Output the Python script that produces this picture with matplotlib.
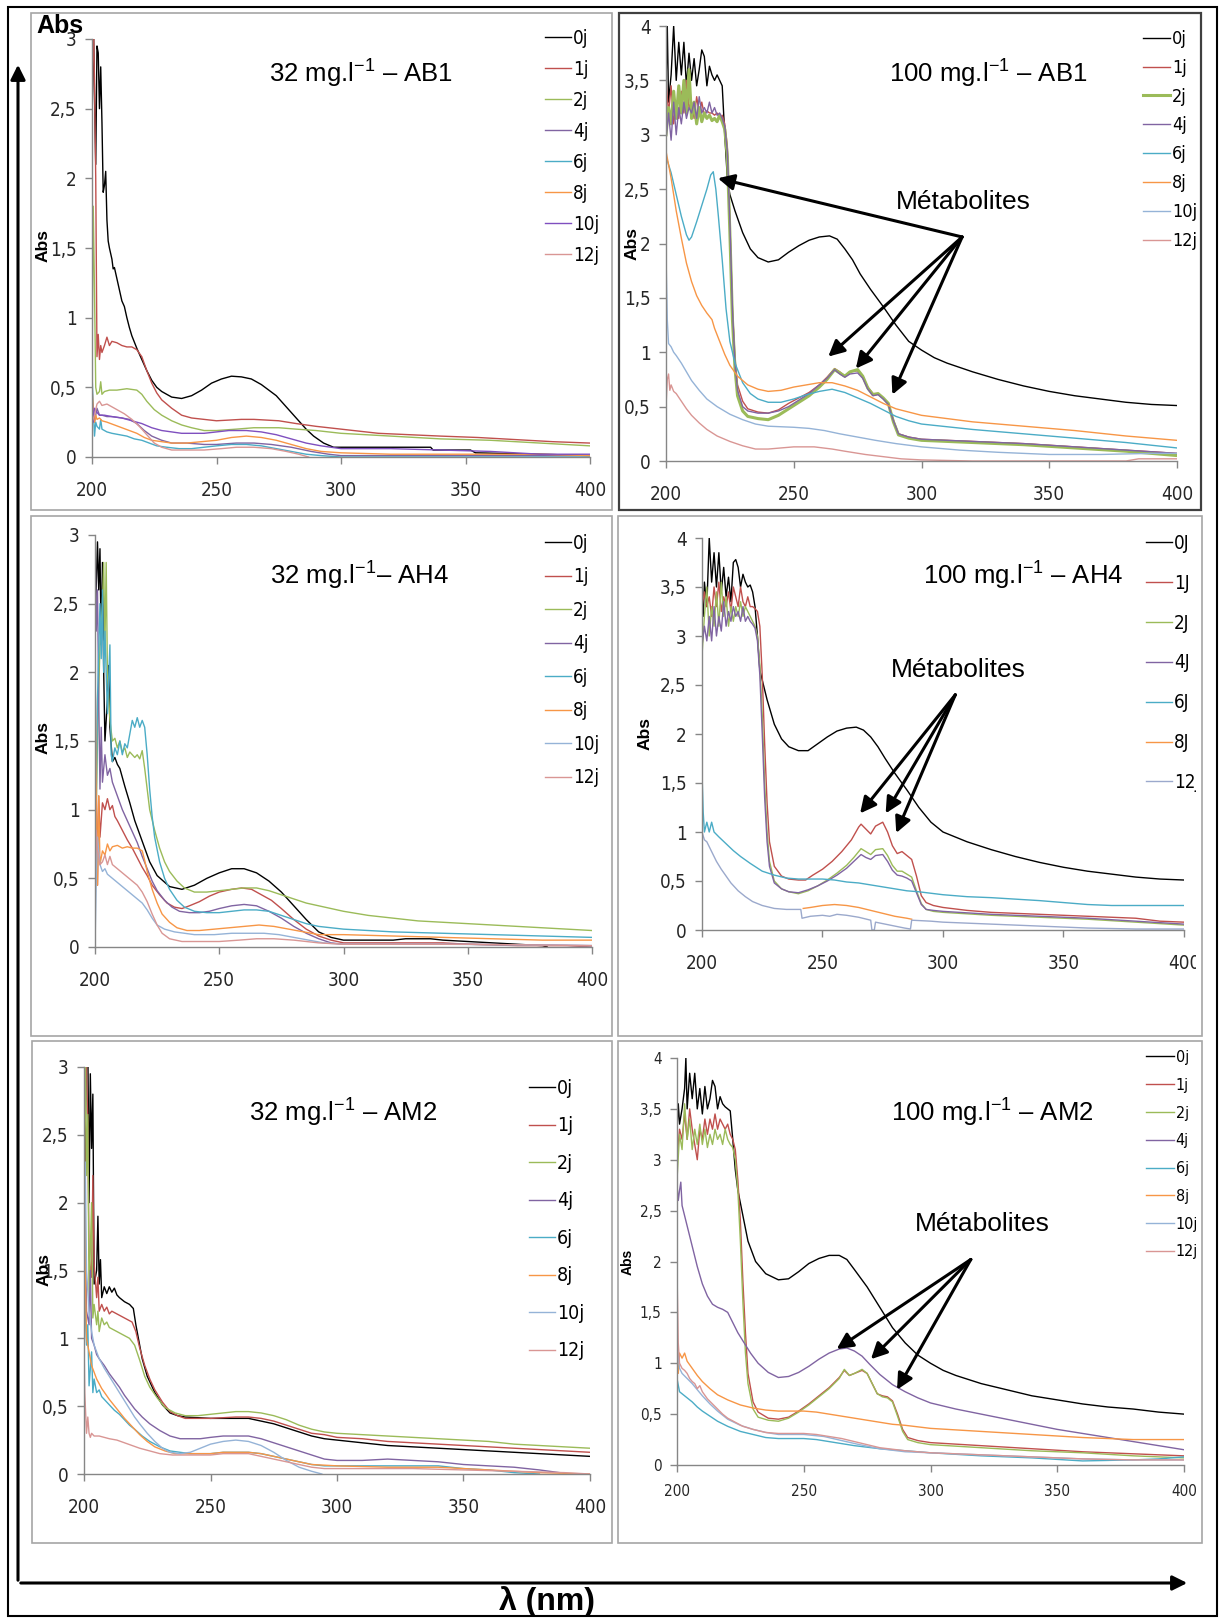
import numpy as np
import matplotlib.pyplot as plt
from matplotlib.patches import Rectangle, FancyArrowPatch
from matplotlib.transforms import Bbox, TransformedBbox

plt.rcParams['mathtext.fontset'] = 'custom'
plt.rcParams['mathtext.rm'] = 'Liberation Sans'

W, H = 1224, 1618

# ---------------- data : (wavelength nm, absorbance) ----------------
days8 = ['0j', '1j', '2j', '4j', '6j', '8j', '10j', '12j']
days_ah4 = ['0J', '1J', '2J', '4J', '6J', '8J', '12J']

y_ticks_3 = [0, 0.5, 1, 1.5, 2, 2.5, 3]
y_labels_3 = ['0', '0,5', '1', '1,5', '2', '2,5', '3']
y_ticks_4 = [0, 0.5, 1, 1.5, 2, 2.5, 3, 3.5, 4]
y_labels_4 = ['0', '0,5', '1', '1,5', '2', '2,5', '3', '3,5', '4']
x_ticks = [200, 250, 300, 350, 400]

# 32 mg/l AB1
p1_0j = [(200,2.3),(200.5,3.2),(201,2.6),(201.5,2.1),(202,2.95),(202.5,2.9),(203,2.5),(203.5,2.8),(204,2.4),(204.5,1.9),(205,1.95),(205.5,2.05),(206,1.7),(206.5,1.55),(207,1.5),(208,1.42),(208.5,1.35),(209,1.36),(210,1.28),(211,1.2),(212,1.12),(213,1.08),(214,1.0),(215,0.93),(216,0.87),(218,0.78),(220,0.7),(222,0.62),(224,0.55),(226,0.5),(228,0.47),(232,0.43),(236,0.42),(240,0.44),(244,0.48),(248,0.53),(252,0.56),(256,0.58),(260,0.575),(264,0.56),(268,0.52),(271,0.48),(274,0.44),(277,0.38),(280,0.32),(283,0.26),(286,0.2),(289,0.15),(293,0.1),(297,0.07),(300,0.07),(320,0.07),(336,0.07),(337,0.05),(352,0.05),(354,0.03),(380,0.02),(400,0.01)]
p1_1j = [(200,2.4),(200.5,3.2),(201,2.7),(201.5,2.0),(202,0.72),(202.5,0.88),(203,0.7),(203.5,0.8),(204,0.75),(205,0.8),(206,0.86),(207,0.8),(208,0.83),(210,0.82),(212,0.8),(214,0.79),(216,0.79),(218,0.77),(220,0.72),(222,0.62),(224,0.53),(226,0.46),(228,0.41),(232,0.35),(236,0.3),(240,0.28),(245,0.27),(250,0.26),(260,0.27),(265,0.27),(270,0.265),(275,0.26),(282,0.24),(290,0.22),(300,0.2),(315,0.17),(340,0.15),(355,0.14),(365,0.13),(385,0.11),(400,0.1)]
p1_2j = [(200,0.6),(200.5,1.8),(201,1.2),(201.5,0.5),(202,0.45),(203,0.47),(203.5,0.54),(204,0.45),(205,0.47),(207,0.48),(210,0.48),(214,0.49),(218,0.48),(220,0.45),(222,0.4),(225,0.34),(228,0.3),(232,0.26),(236,0.23),(240,0.21),(245,0.19),(250,0.19),(258,0.2),(265,0.21),(275,0.21),(282,0.2),(290,0.19),(300,0.17),(320,0.15),(340,0.13),(360,0.12),(380,0.1),(400,0.08)]
p1_4j = [(200,0.4),(200.5,0.3),(201,0.25),(202,0.35),(203,0.3),(204,0.3),(206,0.29),(208,0.29),(212,0.28),(215,0.27),(218,0.24),(221,0.19),(224,0.15),(228,0.12),(232,0.1),(238,0.1),(245,0.09),(250,0.09),(258,0.1),(265,0.1),(272,0.09),(280,0.07),(288,0.04),(295,0.02),(300,0.01),(340,0.01),(400,0.01)]
p1_6j = [(200,0.6),(200.5,0.35),(201,0.15),(201.5,0.25),(202,0.22),(203,0.2),(203.5,0.27),(204,0.2),(206,0.18),(208,0.17),(211,0.16),(214,0.15),(217,0.13),(220,0.12),(223,0.1),(226,0.08),(230,0.07),(235,0.06),(240,0.06),(245,0.07),(250,0.08),(256,0.09),(262,0.09),(268,0.08),(274,0.06),(280,0.04),(286,0.02),(292,0.01),(300,0.0),(400,0.0)]
p1_8j = [(200,0.5),(200.5,0.35),(201,0.25),(201.5,0.3),(202,0.27),(203,0.28),(204,0.26),(206,0.25),(209,0.23),(212,0.21),(215,0.19),(218,0.17),(221,0.14),(224,0.12),(228,0.11),(232,0.1),(238,0.1),(244,0.11),(250,0.12),(256,0.14),(262,0.15),(268,0.14),(274,0.12),(280,0.09),(286,0.06),(292,0.04),(300,0.03),(320,0.02),(350,0.02),(380,0.02),(400,0.01)]
p1_10j = [(200,0.45),(200.5,0.25),(201,0.35),(202,0.32),(203,0.3),(205,0.3),(208,0.29),(212,0.28),(216,0.26),(220,0.24),(224,0.21),(228,0.19),(232,0.18),(236,0.17),(240,0.17),(245,0.17),(250,0.18),(255,0.19),(262,0.19),(268,0.18),(274,0.16),(280,0.13),(286,0.1),(292,0.08),(300,0.06),(320,0.06),(340,0.05),(360,0.04),(380,0.02),(400,0.02)]
p1_12j = [(200,0.25),(201,0.3),(202,0.38),(203,0.4),(204,0.37),(206,0.38),(208,0.36),(210,0.34),(213,0.31),(216,0.27),(219,0.22),(222,0.16),(225,0.1),(228,0.07),(232,0.05),(238,0.05),(245,0.05),(252,0.06),(258,0.07),(265,0.07),(272,0.06),(278,0.04),(283,0.02),(287,0.0)]

# 100 mg/l AB1
p2_0j = [(200,3.45),(200.5,4.0),(201,3.3),(202,3.55),(203,4.0),(204,3.5),(205,3.85),(206,3.55),(207,3.85),(208,3.45),(209,3.75),(210,3.5),(211,3.7),(212,3.45),(213,3.6),(214,3.78),(215,3.72),(216,3.45),(217,3.63),(218,3.55),(219,3.5),(220,3.55),(221,3.5),(222,3.45),(223,3.0),(224,2.6),(225,2.45),(227,2.3),(230,2.1),(233,1.95),(236,1.87),(240,1.83),(244,1.85),(248,1.92),(252,1.98),(256,2.03),(260,2.06),(264,2.07),(267,2.04),(270,1.95),(273,1.85),(276,1.72),(280,1.58),(285,1.42),(290,1.25),(295,1.1),(300,1.02),(305,0.95),(310,0.9),(320,0.82),(330,0.75),(340,0.69),(350,0.64),(360,0.6),(370,0.57),(380,0.54),(390,0.52),(400,0.51)]
p2_1j = [(200,3.5),(201,3.2),(202,3.45),(203,3.1),(204,3.3),(205,3.15),(206,3.4),(207,3.2),(208,3.5),(209,3.25),(210,3.3),(211,3.15),(212,3.35),(213,3.2),(214,3.3),(215,3.18),(216,3.22),(217,3.2),(218,3.2),(219,3.18),(220,3.2),(221,3.15),(222,3.18),(223,3.1),(224,2.9),(225,2.2),(226,1.4),(227,0.95),(228,0.7),(230,0.55),(232,0.48),(236,0.45),(240,0.44),(244,0.47),(248,0.53),(252,0.58),(256,0.63),(260,0.7),(263,0.77),(266,0.85),(268,0.82),(270,0.78),(272,0.82),(275,0.83),(277,0.78),(279,0.68),(281,0.62),(283,0.62),(285,0.58),(287,0.53),(289,0.38),(291,0.25),(295,0.22),(300,0.2),(320,0.18),(340,0.16),(360,0.13),(380,0.1),(400,0.07)]
p2_2j = [(200,3.0),(201,3.25),(202,3.1),(203,3.4),(204,3.15),(205,3.45),(206,3.2),(207,3.5),(208,3.2),(209,3.6),(210,3.15),(211,3.3),(212,3.1),(213,3.25),(214,3.12),(215,3.2),(216,3.15),(217,3.18),(218,3.13),(219,3.15),(220,3.12),(221,3.18),(222,3.12),(223,3.05),(224,2.8),(225,2.1),(226,1.3),(227,0.85),(228,0.6),(230,0.46),(232,0.41),(236,0.39),(240,0.38),(244,0.42),(248,0.48),(252,0.54),(256,0.6),(260,0.68),(263,0.75),(266,0.84),(268,0.81),(270,0.78),(272,0.82),(275,0.84),(277,0.78),(279,0.67),(281,0.61),(283,0.62),(285,0.58),(287,0.53),(289,0.36),(291,0.24),(295,0.21),(300,0.19),(320,0.17),(340,0.15),(360,0.12),(380,0.09),(400,0.05)]
p2_4j = [(200,2.95),(201,3.2),(202,2.95),(203,3.3),(204,3.0),(205,3.25),(206,3.1),(207,3.3),(208,3.15),(209,3.25),(210,3.2),(211,3.3),(212,3.15),(213,3.35),(214,3.2),(215,3.25),(216,3.2),(217,3.3),(218,3.2),(219,3.25),(220,3.18),(221,3.2),(222,3.15),(223,3.08),(224,2.85),(225,2.2),(226,1.4),(227,0.9),(228,0.65),(230,0.5),(232,0.46),(236,0.44),(240,0.44),(244,0.46),(248,0.5),(252,0.56),(256,0.62),(260,0.7),(263,0.76),(266,0.84),(268,0.8),(270,0.77),(272,0.8),(275,0.81),(277,0.76),(279,0.66),(281,0.6),(283,0.61),(285,0.57),(287,0.52),(289,0.37),(291,0.25),(295,0.22),(300,0.2),(320,0.18),(340,0.16),(360,0.13),(380,0.1),(400,0.07)]
p2_6j = [(200,2.8),(202,2.65),(204,2.45),(206,2.25),(208,2.08),(209,2.03),(210,2.06),(212,2.2),(214,2.35),(216,2.5),(217.5,2.63),(218.5,2.66),(219.5,2.5),(220.5,2.25),(222,1.85),(223.5,1.4),(225,1.1),(227,0.9),(230,0.72),(233,0.62),(236,0.57),(240,0.54),(245,0.54),(250,0.57),(255,0.61),(260,0.64),(265,0.66),(270,0.63),(275,0.58),(280,0.53),(285,0.47),(290,0.41),(295,0.37),(300,0.34),(320,0.29),(340,0.25),(360,0.21),(380,0.17),(400,0.12)]
p2_8j = [(200,2.85),(202,2.6),(204,2.3),(206,2.05),(208,1.82),(210,1.65),(212,1.52),(214,1.43),(216,1.36),(218,1.3),(219,1.22),(221,1.1),(223,0.98),(225,0.88),(228,0.78),(232,0.7),(236,0.66),(240,0.64),(245,0.65),(250,0.68),(255,0.7),(260,0.72),(265,0.72),(270,0.69),(275,0.65),(280,0.59),(285,0.53),(290,0.48),(295,0.45),(300,0.42),(320,0.36),(340,0.32),(360,0.28),(380,0.23),(400,0.19)]
p2_10j = [(200,1.9),(200.5,1.3),(201,1.08),(202,1.05),(203,1.0),(204,0.97),(206,0.9),(208,0.82),(210,0.74),(213,0.65),(216,0.57),(220,0.5),(225,0.43),(230,0.38),(235,0.34),(240,0.32),(250,0.31),(256,0.3),(262,0.28),(268,0.25),(275,0.22),(282,0.19),(290,0.16),(300,0.13),(315,0.1),(330,0.08),(350,0.06),(370,0.06),(390,0.07),(400,0.07)]
p2_12j = [(200,0.5),(200.5,0.75),(201,0.8),(201.5,0.65),(202,0.7),(203,0.64),(204,0.62),(206,0.55),(208,0.48),(210,0.42),(213,0.35),(216,0.29),(220,0.23),(225,0.18),(230,0.14),(235,0.11),(240,0.11),(245,0.12),(250,0.13),(258,0.13),(265,0.11),(270,0.09),(278,0.06),(285,0.04),(292,0.02),(300,0.01),(320,0.0),(380,0.0),(385,0.02),(400,0.02)]

# 32 mg/l AH4
p3_0j = [(200,2.3),(201,2.95),(201.5,2.6),(202,2.9),(202.5,2.2),(203,2.8),(203.5,2.0),(204,1.5),(205,1.8),(205.5,2.05),(206,1.6),(207,1.35),(208,1.38),(209,1.33),(210,1.3),(212,1.17),(214,1.05),(216,0.92),(218,0.82),(220,0.72),(222,0.62),(225,0.52),(230,0.44),(235,0.42),(240,0.45),(245,0.5),(250,0.54),(255,0.57),(260,0.57),(265,0.54),(270,0.48),(275,0.4),(280,0.3),(285,0.2),(290,0.11),(295,0.07),(300,0.05),(320,0.05),(325,0.06),(335,0.06),(340,0.05),(350,0.04),(360,0.03),(370,0.02),(380,0.01),(382,0.0)]
p3_1j = [(200,2.1),(200.5,1.2),(201,0.45),(201.5,1.1),(202,0.8),(203,1.05),(204,1.0),(205,1.08),(206,1.0),(207,1.03),(208,0.95),(209,0.92),(211,0.85),(213,0.78),(215,0.72),(217,0.65),(219,0.58),(221,0.52),(223,0.45),(226,0.38),(229,0.32),(232,0.29),(235,0.28),(238,0.3),(242,0.33),(246,0.37),(250,0.4),(255,0.42),(259,0.43),(263,0.42),(267,0.38),(271,0.34),(275,0.28),(280,0.2),(285,0.13),(290,0.08),(295,0.05),(300,0.03),(340,0.03),(350,0.02),(370,0.01),(390,0.01),(400,0.0)]
p3_2j = [(200,0.5),(201,1.5),(202,2.2),(203,2.5),(203.5,2.8),(204,2.2),(204.5,2.8),(205,2.0),(206,1.65),(207,1.5),(208,1.52),(209,1.45),(210,1.5),(211,1.42),(212,1.45),(213,1.38),(214,1.42),(215,1.4),(216,1.38),(217,1.4),(218,1.37),(219,1.43),(220,1.3),(221,1.15),(222,1.0),(224,0.85),(226,0.72),(228,0.62),(230,0.55),(233,0.48),(236,0.43),(240,0.4),(245,0.4),(250,0.41),(255,0.42),(260,0.43),(265,0.43),(270,0.41),(275,0.38),(280,0.35),(285,0.32),(290,0.3),(300,0.26),(310,0.23),(320,0.21),(330,0.19),(340,0.18),(350,0.17),(360,0.16),(370,0.15),(380,0.14),(390,0.13),(400,0.12)]
p3_4j = [(200,3.0),(200.5,2.3),(201,2.6),(201.5,1.8),(202,1.15),(202.5,1.6),(203,1.2),(204,1.4),(205,1.25),(206,1.3),(207,1.2),(208,1.15),(209,1.1),(211,1.0),(213,0.92),(215,0.84),(217,0.76),(219,0.66),(221,0.57),(223,0.48),(225,0.41),(228,0.34),(231,0.29),(234,0.26),(238,0.25),(242,0.25),(246,0.26),(250,0.28),(255,0.3),(260,0.31),(265,0.3),(270,0.26),(275,0.21),(280,0.15),(285,0.1),(290,0.06),(295,0.03),(300,0.02),(350,0.02),(400,0.01)]
p3_6j = [(200,0.3),(201,1.8),(202,2.5),(202.5,2.1),(203,2.6),(203.5,2.0),(204,2.3),(205,1.7),(206,2.2),(206.5,1.4),(207,1.35),(208,1.45),(209,1.4),(210,1.5),(211,1.4),(212,1.48),(213,1.45),(214,1.55),(215,1.65),(216,1.6),(217,1.67),(218,1.6),(219,1.65),(220,1.6),(221,1.4),(222,1.15),(223,0.95),(224,0.8),(226,0.62),(228,0.5),(230,0.42),(233,0.34),(236,0.29),(240,0.26),(245,0.25),(250,0.25),(255,0.26),(260,0.27),(265,0.27),(270,0.26),(275,0.23),(280,0.2),(285,0.17),(290,0.15),(300,0.13),(320,0.11),(340,0.1),(360,0.09),(380,0.08),(400,0.07)]
p3_8j = [(200,2.1),(200.5,1.1),(201,0.45),(201.5,1.1),(202,0.6),(203,0.7),(204,0.67),(205,0.75),(206,0.7),(207,0.73),(209,0.74),(211,0.72),(213,0.73),(215,0.72),(217,0.72),(219,0.7),(220,0.63),(221,0.55),(223,0.42),(225,0.32),(227,0.24),(230,0.18),(233,0.14),(237,0.12),(242,0.12),(248,0.13),(254,0.14),(260,0.15),(266,0.16),(272,0.15),(278,0.13),(284,0.11),(290,0.09),(300,0.09),(320,0.08),(340,0.07),(360,0.06),(380,0.05),(400,0.05)]
p3_10j = [(200,0.0),(200.5,0.5),(201,0.8),(202,0.6),(203,0.55),(204,0.57),(205,0.53),(207,0.5),(209,0.47),(211,0.44),(213,0.41),(215,0.38),(217,0.35),(219,0.32),(221,0.27),(223,0.21),(225,0.16),(228,0.13),(232,0.11),(236,0.1),(240,0.09),(248,0.09),(255,0.1),(262,0.1),(268,0.1),(274,0.09),(280,0.07),(286,0.05),(292,0.03),(300,0.02),(340,0.02),(400,0.01)]
p3_12j = [(200,0.5),(200.5,0.85),(201,0.7),(202,0.6),(203,0.62),(204,0.67),(205,0.6),(206,0.66),(207,0.6),(209,0.57),(211,0.54),(213,0.51),(215,0.48),(217,0.45),(219,0.4),(221,0.33),(223,0.24),(225,0.16),(227,0.1),(230,0.06),(235,0.04),(240,0.04),(250,0.04),(258,0.05),(265,0.06),(272,0.06),(280,0.05),(290,0.03),(300,0.02),(350,0.02),(400,0.01)]

# 100 mg/l AH4
p4_0j = [(200,3.5),(200.5,3.2),(201,3.55),(202,3.3),(203,4.0),(204,3.55),(205,3.85),(206,3.5),(207,3.85),(208,3.45),(209,3.7),(210,3.4),(211,3.6),(212,3.35),(213,3.75),(214,3.78),(215,3.7),(216,3.5),(217,3.63),(218,3.55),(219,3.5),(220,3.52),(221,3.45),(222,3.3),(223,3.0),(224,2.65),(225,2.55),(227,2.35),(230,2.1),(233,1.95),(236,1.87),(240,1.83),(244,1.83),(248,1.9),(252,1.97),(256,2.03),(260,2.06),(264,2.07),(267,2.04),(270,1.97),(273,1.87),(276,1.75),(280,1.6),(285,1.43),(290,1.25),(295,1.1),(300,1.0),(305,0.95),(310,0.9),(320,0.82),(330,0.75),(340,0.69),(350,0.64),(360,0.6),(370,0.57),(380,0.54),(390,0.52),(400,0.51)]
p4_1j = [(200,3.3),(201,3.45),(202,3.3),(203,3.4),(204,3.2),(205,3.5),(206,3.3),(207,3.55),(208,3.25),(209,3.4),(210,3.3),(211,3.45),(212,3.25),(213,3.5),(214,3.4),(215,3.3),(216,3.5),(217,3.35),(218,3.3),(219,3.4),(220,3.3),(221,3.3),(222,3.28),(223,3.25),(224,3.1),(225,2.6),(226,1.9),(227,1.3),(228,0.9),(230,0.65),(233,0.55),(236,0.52),(240,0.51),(243,0.51),(246,0.56),(250,0.62),(254,0.7),(258,0.8),(262,0.92),(265,1.05),(266,1.08),(268,1.03),(270,0.98),(272,1.06),(275,1.1),(277,1.0),(279,0.86),(281,0.78),(283,0.8),(285,0.76),(287,0.72),(289,0.55),(291,0.35),(293,0.28),(296,0.25),(300,0.23),(310,0.2),(320,0.18),(340,0.16),(360,0.14),(380,0.12),(390,0.09),(400,0.08)]
p4_2j = [(200,2.8),(201,3.2),(202,3.5),(203,3.0),(204,3.3),(205,3.1),(206,3.45),(207,3.1),(208,3.55),(209,3.2),(210,3.4),(211,3.1),(212,3.3),(213,3.15),(214,3.3),(215,3.2),(216,3.35),(217,3.2),(218,3.3),(219,3.25),(220,3.2),(221,3.15),(222,3.1),(223,3.0),(224,2.7),(225,2.2),(226,1.5),(227,1.0),(228,0.7),(230,0.5),(233,0.42),(236,0.39),(240,0.37),(244,0.4),(248,0.45),(252,0.51),(256,0.58),(260,0.66),(263,0.74),(266,0.83),(268,0.8),(270,0.77),(272,0.82),(275,0.83),(277,0.76),(279,0.66),(281,0.6),(283,0.6),(285,0.57),(287,0.54),(289,0.4),(291,0.27),(293,0.21),(296,0.19),(300,0.18),(320,0.15),(340,0.13),(360,0.11),(380,0.08),(400,0.05)]
p4_4j = [(200,2.9),(201,3.1),(202,2.95),(203,3.2),(204,2.95),(205,3.3),(206,3.0),(207,3.2),(208,3.05),(209,3.35),(210,3.1),(211,3.25),(212,3.15),(213,3.3),(214,3.2),(215,3.25),(216,3.15),(217,3.3),(218,3.15),(219,3.2),(220,3.15),(221,3.12),(222,3.08),(223,2.95),(224,2.6),(225,2.0),(226,1.35),(227,0.9),(228,0.65),(230,0.48),(233,0.42),(236,0.39),(240,0.38),(244,0.41),(248,0.45),(252,0.5),(256,0.56),(260,0.63),(263,0.7),(266,0.77),(268,0.74),(270,0.72),(272,0.76),(275,0.77),(277,0.7),(279,0.61),(281,0.56),(283,0.55),(285,0.53),(287,0.5),(289,0.38),(291,0.26),(293,0.21),(296,0.2),(300,0.19),(320,0.16),(340,0.14),(360,0.12),(380,0.09),(400,0.06)]
p4_6j = [(200,1.6),(200.5,1.2),(201,1.0),(202,1.1),(203,1.0),(204,1.1),(205,1.0),(207,0.95),(210,0.88),(213,0.81),(216,0.75),(220,0.68),(225,0.6),(230,0.56),(235,0.53),(240,0.52),(245,0.52),(250,0.52),(255,0.51),(260,0.49),(265,0.48),(270,0.46),(275,0.44),(280,0.42),(285,0.4),(290,0.39),(300,0.36),(310,0.34),(320,0.33),(340,0.3),(350,0.28),(360,0.26),(370,0.25),(380,0.25),(390,0.25),(400,0.25)]
p4_8j = [(242,0.22),(245,0.23),(250,0.25),(255,0.26),(260,0.25),(265,0.23),(270,0.2),(275,0.17),(280,0.14),(285,0.12),(287,0.11)]
p4_12j = [(200,1.0),(201,0.92),(202,0.9),(204,0.8),(206,0.7),(208,0.62),(210,0.55),(212,0.48),(215,0.4),(218,0.34),(221,0.29),(225,0.25),(230,0.22),(235,0.21),(241,0.21),(241.5,0.12),(245,0.14),(250,0.15),(253,0.14),(256,0.16),(260,0.15),(265,0.13),(270,0.1),(270.5,0.0),(271.5,0.0),(272,0.08),(276,0.06),(280,0.04),(284,0.02),(286.5,0.01),(287,0.1),(295,0.09),(300,0.08),(320,0.06),(340,0.04),(360,0.02),(380,0.01),(400,0.01)]

# 32 mg/l AM2
p5_0j = [(200,1.2),(200.5,2.5),(201,3.2),(201.5,3.2),(202,2.0),(202.5,2.95),(203,2.4),(203.5,2.8),(204,1.4),(205,1.5),(205.5,1.9),(206,1.4),(206.5,1.58),(207,1.3),(208,1.38),(209,1.33),(210,1.38),(211,1.34),(212,1.37),(213,1.32),(214,1.3),(216,1.27),(218,1.25),(219.5,1.22),(220.5,1.1),(222,0.95),(223,0.85),(225,0.72),(228,0.6),(231,0.51),(234,0.45),(237,0.43),(240,0.42),(250,0.41),(260,0.41),(265,0.41),(270,0.39),(275,0.37),(280,0.34),(285,0.31),(290,0.28),(295,0.26),(300,0.25),(310,0.23),(320,0.21),(330,0.2),(340,0.19),(350,0.18),(360,0.17),(370,0.16),(380,0.15),(390,0.14),(400,0.13)]
p5_1j = [(200,3.2),(201,3.0),(201.5,2.6),(202,1.6),(203,1.45),(203.5,2.2),(204,1.55),(205,1.3),(205.5,1.45),(206,1.2),(207,1.25),(208,1.2),(209,1.23),(210,1.18),(211,1.2),(213,1.18),(215,1.16),(217,1.14),(219,1.12),(220.5,1.05),(222,0.93),(224,0.8),(226,0.7),(228,0.62),(231,0.53),(234,0.46),(237,0.43),(240,0.41),(250,0.41),(260,0.42),(265,0.42),(270,0.41),(275,0.39),(280,0.36),(285,0.33),(290,0.3),(295,0.29),(300,0.27),(310,0.26),(320,0.24),(330,0.23),(340,0.22),(350,0.21),(360,0.2),(370,0.19),(380,0.18),(390,0.17),(400,0.16)]
p5_2j = [(200,2.0),(200.5,3.2),(201,2.2),(201.5,2.65),(202,1.3),(203,2.0),(203.5,1.15),(204,1.25),(205,1.1),(205.5,1.2),(206,1.05),(207,1.15),(208,1.1),(209,1.12),(210,1.08),(212,1.06),(214,1.04),(216,1.02),(218,1.0),(220,0.95),(222,0.84),(224,0.72),(226,0.64),(229,0.56),(232,0.49),(236,0.45),(240,0.43),(245,0.43),(250,0.44),(255,0.45),(260,0.46),(265,0.46),(270,0.45),(275,0.43),(280,0.4),(285,0.36),(290,0.33),(295,0.31),(300,0.3),(310,0.29),(320,0.28),(330,0.27),(340,0.26),(350,0.25),(360,0.24),(370,0.22),(380,0.21),(390,0.2),(400,0.19)]
p5_4j = [(200,2.3),(201,1.2),(202,1.1),(202.5,1.5),(203,1.0),(204,0.95),(205,0.88),(206,0.85),(208,0.8),(210,0.74),(212,0.69),(214,0.64),(216,0.58),(218,0.53),(220,0.48),(223,0.42),(226,0.37),(230,0.32),(234,0.28),(238,0.26),(242,0.26),(246,0.26),(250,0.27),(255,0.28),(260,0.28),(265,0.28),(270,0.26),(275,0.23),(280,0.2),(285,0.17),(290,0.14),(295,0.11),(300,0.1),(310,0.1),(320,0.11),(330,0.1),(340,0.09),(350,0.07),(360,0.06),(370,0.05),(380,0.03),(388,0.01)]
p5_6j = [(200,2.6),(200.5,1.2),(201,0.95),(201.5,1.1),(202,0.65),(203,0.9),(203.5,0.6),(204,0.7),(205,0.6),(206,0.62),(207,0.57),(208,0.55),(210,0.51),(212,0.47),(214,0.44),(216,0.4),(218,0.36),(220,0.33),(223,0.28),(226,0.24),(230,0.2),(234,0.17),(238,0.16),(242,0.15),(250,0.15),(255,0.16),(260,0.16),(265,0.16),(270,0.15),(275,0.13),(280,0.11),(285,0.09),(290,0.07),(295,0.06),(300,0.06),(320,0.06),(340,0.06),(350,0.04),(360,0.03),(370,0.01),(380,0.0)]
p5_8j = [(200,3.2),(200.5,1.5),(201,1.0),(202,0.9),(203,0.8),(205,0.7),(207,0.63),(210,0.55),(213,0.48),(216,0.41),(219,0.35),(222,0.29),(225,0.24),(228,0.2),(232,0.17),(236,0.15),(240,0.15),(245,0.15),(250,0.15),(255,0.16),(260,0.16),(265,0.16),(270,0.15),(275,0.13),(280,0.11),(285,0.09),(290,0.07),(300,0.06),(320,0.05),(340,0.05),(360,0.03),(380,0.01),(400,0.0)]
p5_10j = [(200,1.8),(200.5,2.3),(201,1.5),(202,1.2),(203,1.05),(204,0.95),(206,0.85),(208,0.78),(210,0.72),(212,0.66),(214,0.6),(216,0.54),(218,0.48),(220,0.42),(222,0.37),(225,0.3),(228,0.24),(231,0.19),(234,0.16),(238,0.15),(242,0.16),(246,0.19),(250,0.22),(255,0.24),(260,0.25),(265,0.24),(270,0.21),(275,0.16),(280,0.1),(285,0.05),(290,0.02),(294,0.0)]
p5_12j = [(200,1.0),(200.3,0.6),(201,0.3),(201.5,0.42),(202,0.3),(202.5,0.27),(203,0.3),(204,0.28),(206,0.28),(208,0.27),(210,0.26),(213,0.25),(216,0.23),(219,0.21),(222,0.19),(226,0.17),(230,0.15),(235,0.14),(240,0.14),(250,0.14),(255,0.15),(260,0.15),(265,0.15),(270,0.13),(275,0.11),(280,0.09),(285,0.07),(290,0.05),(295,0.04),(300,0.04),(330,0.04),(350,0.03),(370,0.02),(390,0.01),(400,0.0)]

# 100 mg/l AM2
p6_0j = [(200,3.3),(200.5,3.55),(201,3.35),(202,3.5),(203,3.7),(203.5,4.0),(204,3.5),(205,3.85),(206,3.6),(207,3.85),(208,3.5),(209,3.7),(210,3.45),(211,3.72),(212,3.5),(213,3.6),(214,3.78),(215,3.72),(216,3.5),(217,3.62),(218,3.55),(219,3.52),(220,3.5),(221,3.48),(222,3.2),(223,2.9),(224,2.7),(226,2.45),(228,2.2),(231,2.0),(235,1.88),(240,1.82),(244,1.83),(248,1.9),(252,1.98),(256,2.03),(260,2.06),(264,2.06),(267,2.02),(270,1.92),(275,1.75),(280,1.55),(285,1.35),(290,1.2),(295,1.08),(300,1.0),(305,0.93),(310,0.88),(320,0.8),(330,0.74),(340,0.68),(350,0.64),(360,0.6),(370,0.57),(380,0.55),(390,0.52),(400,0.5)]
p6_1j = [(200,3.0),(201,3.3),(202,3.2),(203,3.45),(204,3.2),(205,3.5),(206,3.3),(207,3.15),(208,3.0),(209,3.3),(210,3.2),(211,3.4),(212,3.25),(213,3.4),(214,3.3),(215,3.45),(216,3.3),(217,3.4),(218,3.35),(219,3.3),(220,3.35),(221,3.25),(222,3.2),(223,3.1),(224,2.8),(225,2.4),(226,1.8),(227,1.3),(228,0.9),(230,0.62),(232,0.52),(236,0.46),(240,0.45),(244,0.47),(248,0.53),(252,0.6),(256,0.68),(260,0.76),(264,0.86),(266,0.93),(268,0.88),(270,0.9),(273,0.93),(275,0.9),(277,0.8),(279,0.7),(281,0.68),(283,0.67),(285,0.63),(287,0.5),(289,0.35),(291,0.27),(295,0.24),(300,0.22),(320,0.19),(340,0.16),(360,0.13),(380,0.11),(400,0.09)]
p6_2j = [(200,2.8),(201,3.25),(202,3.1),(203,3.55),(204,3.2),(205,3.4),(206,3.1),(207,3.3),(208,3.15),(209,3.35),(210,3.15),(211,3.3),(212,3.12),(213,3.25),(214,3.15),(215,3.3),(216,3.2),(217,3.25),(218,3.15),(219,3.3),(220,3.2),(221,3.15),(222,3.12),(223,3.0),(224,2.7),(225,2.2),(226,1.6),(227,1.1),(228,0.8),(230,0.55),(232,0.47),(236,0.44),(240,0.43),(244,0.46),(248,0.52),(252,0.59),(256,0.67),(260,0.75),(264,0.85),(266,0.94),(268,0.88),(270,0.9),(273,0.94),(275,0.9),(277,0.8),(279,0.7),(281,0.67),(283,0.66),(285,0.62),(287,0.48),(289,0.33),(291,0.25),(295,0.22),(300,0.2),(320,0.17),(340,0.14),(360,0.12),(380,0.09),(400,0.07)]
p6_4j = [(200,2.75),(200.5,2.6),(201,2.7),(201.5,2.78),(202,2.55),(203,2.45),(204,2.35),(206,2.15),(208,1.95),(210,1.78),(212,1.66),(214,1.58),(216,1.55),(218,1.53),(220,1.5),(222,1.4),(224,1.3),(226,1.22),(229,1.1),(232,1.0),(236,0.91),(240,0.86),(244,0.87),(248,0.91),(252,0.97),(256,1.04),(260,1.1),(264,1.14),(267,1.15),(270,1.12),(273,1.07),(276,0.99),(280,0.89),(285,0.79),(290,0.72),(295,0.66),(300,0.61),(310,0.55),(320,0.5),(330,0.45),(340,0.4),(350,0.35),(360,0.31),(370,0.27),(380,0.23),(390,0.19),(400,0.15)]
p6_6j = [(200,0.85),(201,0.72),(202,0.7),(203,0.68),(204,0.66),(206,0.62),(208,0.57),(210,0.53),(213,0.48),(216,0.43),(220,0.38),(225,0.33),(230,0.3),(235,0.27),(240,0.26),(250,0.26),(255,0.25),(260,0.23),(265,0.21),(270,0.19),(280,0.16),(290,0.14),(300,0.12),(320,0.09),(340,0.07),(360,0.04),(380,0.05),(390,0.06),(400,0.08)]
p6_8j = [(200,1.0),(200.5,0.9),(201,1.1),(202,1.05),(203,1.1),(204,1.02),(206,0.95),(208,0.88),(210,0.82),(213,0.75),(216,0.69),(220,0.64),(225,0.59),(230,0.56),(235,0.54),(240,0.53),(250,0.53),(255,0.52),(260,0.5),(265,0.48),(270,0.46),(275,0.44),(280,0.42),(285,0.4),(290,0.39),(300,0.36),(320,0.33),(340,0.3),(360,0.27),(380,0.25),(390,0.25),(400,0.25)]
p6_10j = [(200,1.2),(201,0.95),(202,0.9),(204,0.85),(206,0.8),(208,0.74),(210,0.68),(213,0.6),(216,0.53),(220,0.45),(225,0.39),(230,0.35),(235,0.32),(240,0.3),(250,0.3),(258,0.28),(265,0.24),(272,0.2),(280,0.16),(290,0.13),(300,0.12),(320,0.1),(340,0.08),(360,0.06),(380,0.05),(400,0.05)]
p6_12j = [(200,1.9),(200.5,1.2),(201,1.0),(202,0.95),(203,0.93),(204,0.9),(205,0.85),(206,0.82),(207,0.8),(208,0.75),(209,0.78),(210,0.72),(212,0.65),(214,0.6),(216,0.55),(218,0.5),(220,0.46),(223,0.42),(226,0.38),(230,0.35),(235,0.32),(240,0.31),(245,0.31),(250,0.31),(255,0.3),(260,0.28),(265,0.26),(270,0.23),(275,0.2),(280,0.17),(290,0.14),(300,0.12),(320,0.1),(340,0.08),(360,0.06),(380,0.05),(400,0.05)]

# ---------------- style ----------------
cols = {'0': '#000000', '1': '#C0504D', '2': '#9BBB59', '4': '#8064A2',
        '6': '#4BACC6', '8': '#F79646', '10': '#95B3D7', '12': '#D99694'}
SANS = ['Liberation Sans', 'DejaVu Sans']

fig = plt.figure(figsize=(W / 100, H / 100), dpi=100)


def px_axes(l, t, r, b):
    return fig.add_axes([l / W, 1 - b / H, (r - l) / W, (b - t) / H])


def px_box(l, t, r, b, color, lw):
    fig.add_artist(Rectangle((l / W, 1 - b / H), (r - l) / W, (b - t) / H,
                             transform=fig.transFigure, fill=False,
                             edgecolor=color, linewidth=lw))


def narrow(fs):
    return dict(family='DejaVu Sans', stretch='condensed', fontsize=fs)


def draw_panel(ax, series, labels, colors, ymax, yt, yl, tick_fs, widths=None):
    for i, (s, lab, c) in enumerate(zip(series, labels, colors)):
        x, y = zip(*s)
        lw = widths[i] if widths else 1.0
        ax.plot(x, y, color=c, lw=lw, label=lab)
    ax.set_xlim(200, 400)
    ax.set_ylim(0, ymax)
    ax.set_xticks(x_ticks)
    ax.set_xticklabels([str(v) for v in x_ticks], **narrow(tick_fs))
    ax.set_yticks(yt)
    ax.set_yticklabels(yl, **narrow(tick_fs))
    for sp in ['top', 'right']:
        ax.spines[sp].set_visible(False)
    for sp in ['left', 'bottom']:
        ax.spines[sp].set_color('#868686')
        ax.spines[sp].set_linewidth(1.0)
    ax.tick_params(direction='out', length=5, width=1, color='#868686',
                   labelcolor='#262626')
    ax.tick_params(axis='x', pad=12 if tick_fs > 12 else 9)
    ax.tick_params(axis='y', pad=6)
    ax.patch.set_alpha(0)


def px_legend(ax, x, y, fs, spacing, hl):
    return ax.legend(loc='upper left', bbox_to_anchor=(x / W, 1 - y / H),
                     bbox_transform=fig.transFigure, frameon=False, borderpad=0,
                     borderaxespad=0, handlelength=hl, handletextpad=0.1,
                     labelspacing=spacing,
                     prop={'family': 'DejaVu Sans', 'stretch': 'condensed', 'size': fs})


def arrows(ax, start, targets):
    for tg in targets:
        ax.annotate('', xy=tg, xytext=start, annotation_clip=False,
                    arrowprops=dict(arrowstyle='-|>', lw=2.2, color='black',
                                    mutation_scale=24, shrinkA=0, shrinkB=0))


def title(x, y, s, fs=18.5):
    fig.text(x / W, 1 - y / H, s, ha='center', va='center', fontsize=fs,
             family=SANS)


def ylab(x, y, fs=12.5):
    fig.text(x / W, 1 - y / H, 'Abs', ha='center', va='center', rotation=90,
             fontsize=fs, fontweight='bold', family=SANS)


def metab(x, y):
    fig.text(x / W, 1 - y / H, 'Métabolites', ha='center', va='center',
             fontsize=19, family=SANS)


c8 = [cols[k] for k in ['0', '1', '2', '4', '6', '8', '10', '12']]

# panel boxes
px_box(31, 13, 612, 510, '#a6a6a6', 1.2)
px_box(619, 13, 1201, 510, '#404040', 1.6)
px_box(31, 516, 612, 1036, '#a6a6a6', 1.2)
px_box(618, 516, 1202, 1036, '#a6a6a6', 1.2)
px_box(32, 1041, 612, 1543, '#a6a6a6', 1.2)
px_box(618, 1041, 1202, 1543, '#a6a6a6', 1.2)

# panel 1
ax1 = px_axes(92, 39, 590, 457)
c_p1 = c8[:6] + ['#7F4FBF', cols['12']]
draw_panel(ax1, [p1_0j, p1_1j, p1_2j, p1_4j, p1_6j, p1_8j, p1_10j, p1_12j],
           days8, c_p1, 3, y_ticks_3, y_labels_3, 13.5)
px_legend(ax1, 545, 29, 13.5, 0.64, 1.4)
title(361, 73, r'32 mg.l$^{\mathregular{-1}}$ – AB1')
ylab(43.5, 245)

# panel 2
ax2 = px_axes(666, 26, 1177, 461)
draw_panel(ax2, [p2_0j, p2_1j, p2_2j, p2_4j, p2_6j, p2_8j, p2_10j, p2_12j],
           days8, c8, 4, y_ticks_4, y_labels_4, 13.5,
           widths=[1, 1, 2.2, 1, 1, 1, 1, 1])
px_legend(ax2, 1143, 30, 13, 0.6, 1.5)
title(988, 73, r'100 mg.l$^{\mathregular{-1}}$ – AB1')
ylab(632, 243)
metab(963, 202)
arrows(ax2, (315.9, 2.06), [(220.3, 2.60), (263.5, 0.96), (274.3, 0.85), (288.6, 0.61)])

# panel 3
ax3 = px_axes(95, 535, 592, 947)
draw_panel(ax3, [p3_0j, p3_1j, p3_2j, p3_4j, p3_6j, p3_8j, p3_10j, p3_12j],
           days8, c8, 3, y_ticks_3, y_labels_3, 13.5)
px_legend(ax3, 545, 534, 13.5, 0.77, 1.4)
title(359, 575, r'32 mg.l$^{\mathregular{-1}}$– AH4')
ylab(43, 738)

# panel 4
ax4 = px_axes(702, 538, 1184, 930)
c_p4 = c8[:6] + ['#9BA9CC']
draw_panel(ax4, [p4_0j, p4_1j, p4_2j, p4_4j, p4_6j, p4_8j, p4_12j],
           days_ah4, c_p4, 4, y_ticks_4, y_labels_4, 13.5)
leg4 = px_legend(ax4, 1146, 534, 13.5, 1.11, 1.4)
title(1023, 575, r'100 mg.l$^{\mathregular{-1}}$ – AH4')
ylab(645, 734)
metab(958, 670)
arrows(ax4, (305.1, 2.40), [(265.6, 1.19), (276.2, 1.19), (280.6, 0.99)])
# the right edge of this chart is cut in the source
clip4 = TransformedBbox(Bbox.from_extents(0, 0, 1196 / W, 1), fig.transFigure)
for t in list(leg4.get_texts()) + list(ax4.get_xticklabels()):
    t.set_clip_box(clip4)
    t.set_clip_on(True)

# panel 5
ax5 = px_axes(84, 1067, 590, 1474)
draw_panel(ax5, [p5_0j, p5_1j, p5_2j, p5_4j, p5_6j, p5_8j, p5_10j, p5_12j],
           days8, c8, 3, y_ticks_3, y_labels_3, 13.5)
px_legend(ax5, 529, 1079, 14, 0.95, 1.35)
title(343, 1112, r'32 mg.l$^{\mathregular{-1}}$ – AM2')
ylab(44, 1270)

# panel 6
ax6 = px_axes(677, 1058, 1184, 1465)
draw_panel(ax6, [p6_0j, p6_1j, p6_2j, p6_4j, p6_6j, p6_8j, p6_10j, p6_12j],
           days8, c8, 4, y_ticks_4, y_labels_4, 11)
px_legend(ax6, 1146, 1050, 11.5, 0.8, 1.75)
title(992, 1112, r'100 mg.l$^{\mathregular{-1}}$ – AM2')
ylab(628, 1262, 10)
metab(982, 1224)
arrows(ax6, (315.9, 2.02), [(263, 1.14), (276.5, 1.04), (286.8, 0.74)])

# outer frame and global axes arrows
px_box(8, 7, 1217, 1616, 'black', 1.5)
fig.add_artist(FancyArrowPatch((18 / W, 1 - 1583 / H), (18 / W, 1 - 62 / H),
                               transform=fig.transFigure, arrowstyle='-|>',
                               mutation_scale=22, lw=2.2, color='black'))
fig.add_artist(FancyArrowPatch((18 / W, 1 - 1583 / H), (1190 / W, 1 - 1583 / H),
                               transform=fig.transFigure, arrowstyle='-|>',
                               mutation_scale=22, lw=2.2, color='black'))
fig.text(60 / W, 1 - 26 / H, 'Abs', ha='center', va='center', fontsize=18,
         fontweight='bold', family=SANS)
fig.text(547 / W, 1 - 1602 / H, 'λ (nm)', ha='center', va='center',
         fontsize=23, fontweight='bold', family=SANS)

fig.savefig('out.png', dpi=100)
